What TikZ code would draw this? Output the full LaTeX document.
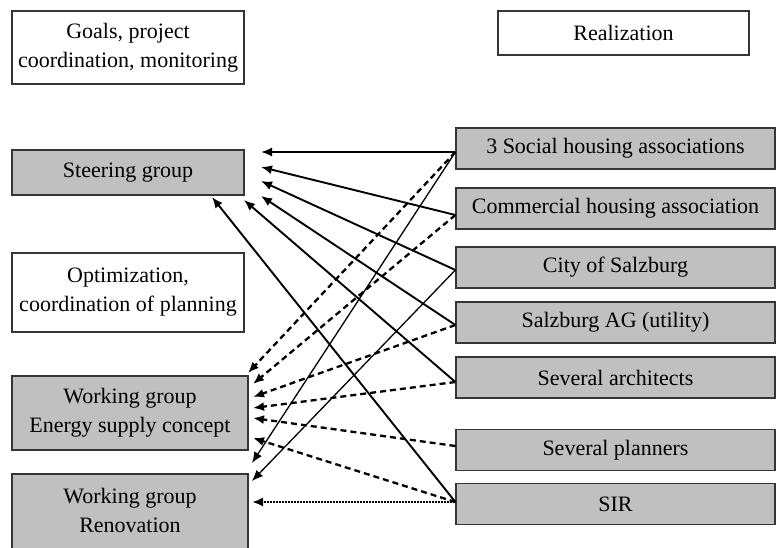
\documentclass[tikz,border=0pt]{standalone}
\usepackage{fontspec}
\setmainfont{Liberation Serif}
\usetikzlibrary{arrows.meta,calc}
\definecolor{boxgray}{HTML}{C0C0C0}
\definecolor{boxline}{HTML}{353535}
\begin{document}
\begin{tikzpicture}[x=1pt,y=-1pt,
  box/.style={draw=boxline, line width=1.2pt, inner sep=0pt, align=center, font=\fontsize{22}{29}\selectfont},
  wbox/.style={box, fill=white},
  gbox/.style={box, fill=boxgray},
  rbox/.style={gbox, minimum width=319pt, minimum height=41pt},
  plaintext/.style={inner sep=0pt, align=center, font=\fontsize{22}{29}\selectfont},
  tip/.style={-{Latex[length=11pt,width=9pt]}},
  solidarrow/.style={tip, line width=1.9pt},
  thinarrow/.style={tip, line width=1.3pt},
  dasharrow/.style={tip, line width=2.3pt, dash pattern=on 6pt off 4pt},
  dotarrow/.style={tip, line width=2.3pt, dash pattern=on 2pt off 1pt},
]
\useasboundingbox (0,0) rectangle (776,547);

% left column
\node[wbox, minimum width=232pt, minimum height=73pt] (goals) at (128,47.5) {Goals, project\\coordination, monitoring};
\node[gbox, minimum width=232pt, minimum height=45pt] (steering) at (128,172.5) {Steering group};
\node[wbox, minimum width=232pt, minimum height=79pt] (optim) at (128,292.5) {Optimization,\\coordination of planning};
\node[gbox, minimum width=236pt, minimum height=74pt] (energy) at (130,413) {Working group\\Energy supply concept};
\node[gbox, minimum width=236pt, minimum height=80pt] (renov) at (130,514) {};
\node[plaintext] (renovtext) at (130,510) {Working group\\Renovation};

% right column
\node[wbox, minimum width=251pt, minimum height=44pt] (realiz) at (623.5,33) {Realization};
\node[rbox] (social) at (615.5,148.5) {3 Social housing associations};
\node[rbox] (commercial) at (615.5,208.5) {Commercial housing association};
\node[rbox] (city) at (615.5,267.5) {City of Salzburg};
\node[rbox] (salzag) at (615.5,322.5) {Salzburg AG (utility)};
\node[rbox] (architects) at (615.5,377.5) {Several architects};
\node[rbox] (planners) at (615.5,450) {Several planners};
\node[rbox] (sir) at (615.5,504) {SIR};

% arrow tip positions
\coordinate (t1) at (261,152);
\coordinate (t2) at (261,167);
\coordinate (t3) at (261,181);
\coordinate (t4) at (261,196);
\coordinate (t5) at (244,200);
\coordinate (t6) at (212,197);
\coordinate (e1) at (248,373);
\coordinate (e2) at (253,384);
\coordinate (e3) at (253,397);
\coordinate (e4) at (253,408);
\coordinate (e5) at (253,418);
\coordinate (e6) at (253,438);
\coordinate (r1) at (252,463);
\coordinate (r2) at (252,481);
\coordinate (r3) at (252,502);

% to steering group
\draw[solidarrow] ([yshift=-3.5pt]social.west) -- (t1);
\draw[solidarrow] ([yshift=-6.5pt]commercial.west) -- (t2);
\draw[solidarrow] ([yshift=-2.5pt]city.west) -- (t3);
\draw[solidarrow] ([yshift=-2.5pt]salzag.west) -- (t4);
\draw[solidarrow] ([yshift=-4.5pt]architects.west) -- (t5);
\draw[solidarrow] ([yshift=2pt]sir.west) -- (t6);

% to working group energy supply concept
\draw[dasharrow] ([yshift=-3.5pt]social.west) -- (e1);
\draw[dasharrow] ([yshift=-6.5pt]commercial.west) -- (e2);
\draw[dasharrow] ([yshift=-2.5pt]salzag.west) -- (e3);
\draw[dasharrow] ([yshift=-4.5pt]architects.west) -- (e4);
\draw[dasharrow] ([yshift=4pt]planners.west) -- (e5);
\draw[dasharrow] ([yshift=2pt]sir.west) -- (e6);

% to working group renovation
\draw[thinarrow] ([yshift=-3.5pt]social.west) -- (r1);
\draw[thinarrow] ([yshift=-2.5pt]city.west) -- (r2);
\draw[dotarrow] ([yshift=2pt]sir.west) -- (r3);
\end{tikzpicture}
\end{document}
